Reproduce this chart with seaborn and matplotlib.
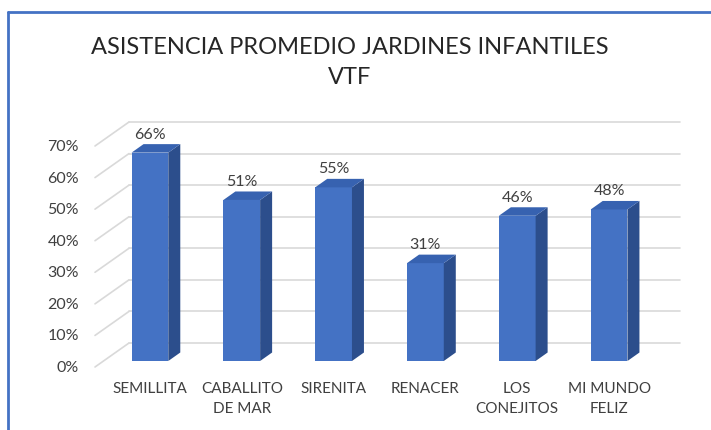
import matplotlib
matplotlib.use("Agg")
import matplotlib.pyplot as plt
import seaborn as sns
import pandas as pd
from matplotlib.patches import Polygon
from matplotlib.lines import Line2D

# ---- data ----
categories = ["SEMILLITA", "CABALLITO\nDE MAR", "SIRENITA", "RENACER",
              "LOS\nCONEJITOS", "MI MUNDO\nFELIZ"]
values = [0.66, 0.51, 0.55, 0.31, 0.46, 0.48]
value_labels = ["66%", "51%", "55%", "31%", "46%", "48%"]
y_ticks = [0.0, 0.1, 0.2, 0.3, 0.4, 0.5, 0.6, 0.7]
y_tick_labels = ["0%", "10%", "20%", "30%", "40%", "50%", "60%", "70%"]
title = "ASISTENCIA PROMEDIO JARDINES INFANTILES\nVTF"

# ---- style ----
FRONT = "#4472C4"
SIDE = "#2C4E8C"
TOP = "#3762B0"
GRID = "#D9D9D9"
TEXT = "#404040"
FONT = ["Lato", "DejaVu Sans"]

sns.set_theme(style="white")
plt.rcParams["font.family"] = FONT

W, H = 711, 430
fig = plt.figure(figsize=(W / 100, H / 100), dpi=100)
fig.patch.set_facecolor("white")

ax = fig.add_axes([104 / W, 69 / H, 551 / W, 221 / H])
ax.patch.set_visible(False)

df = pd.DataFrame({"jardin": categories, "asistencia": values})
sns.barplot(data=df, x="jardin", y="asistencia", color=FRONT, saturation=1,
            width=0.40, ax=ax, linewidth=0, zorder=3)
ax.set_xlim(-0.5, len(categories) - 0.5)
ax.set_ylim(0, 0.7)
ax.set_xlabel("")
ax.set_ylabel("")
ax.set_yticks([])
for s in ax.spines.values():
    s.set_visible(False)
ax.tick_params(axis="x", length=0, pad=15, labelsize=11, labelcolor=TEXT)
for t in ax.get_xticklabels():
    t.set_linespacing(1.55)

def disp(x, y):
    return ax.transData.transform((x, y))

def ff(X, Y):
    return (X / W, Y / H)

# back wall / floor offsets (pixels: right, up)
WX, WY = 25, 18
FX, FY = -9, -6
BX, BY = 12, 8.5

xl, xr = ax.get_xlim()
for v, lab in zip(y_ticks, y_tick_labels):
    X0, Y = disp(xl, v)
    X1, _ = disp(xr, v)
    ax.add_line(Line2D([ (X0 + WX) / W, (X1 + WX) / W ], [ (Y + WY) / H ] * 2,
                       transform=fig.transFigure, color=GRID, lw=1.2,
                       zorder=0, clip_on=False))
    ax.add_line(Line2D([ (X0 + FX) / W, (X0 + WX) / W ],
                       [ (Y + FY) / H, (Y + WY) / H ],
                       transform=fig.transFigure, color=GRID, lw=1.2,
                       zorder=0, clip_on=False))
    fig.text((X0 - 25) / W, (Y - 7) / H, lab, ha="right", va="center",
             fontsize=11.5, color=TEXT)

# 3D faces for bars
for p, lab in zip(ax.patches, value_labels):
    x0, w, h = p.get_x(), p.get_width(), p.get_height()
    X0, Yb = disp(x0, 0)
    X1, Yt = disp(x0 + w, h)
    side = [ff(X1, Yb), ff(X1, Yt), ff(X1 + BX, Yt + BY), ff(X1 + BX, Yb + BY)]
    top = [ff(X0, Yt), ff(X1, Yt), ff(X1 + BX, Yt + BY), ff(X0 + BX, Yt + BY)]
    ax.add_patch(Polygon(side, closed=True, transform=fig.transFigure,
                         facecolor=SIDE, edgecolor="none", zorder=3,
                         clip_on=False))
    ax.add_patch(Polygon(top, closed=True, transform=fig.transFigure,
                         facecolor=TOP, edgecolor="none", zorder=3,
                         clip_on=False))
    fig.text((X0 + X1) / 2 / W, (Yt + 11) / H, lab, ha="center", va="bottom",
             fontsize=11.5, color=TEXT)

fig.text(350 / W, 1 - 37 / H, title, ha="center", va="top", fontsize=17,
         color="#262626", linespacing=1.5)

# chart border
fig.add_artist(Line2D([8 / W, 1], [1 - 12 / H, 1 - 12 / H],
                      transform=fig.transFigure, color=FRONT, lw=2))
fig.add_artist(Line2D([8 / W, 8 / W], [0, 1 - 12 / H],
                      transform=fig.transFigure, color=FRONT, lw=2))

fig.savefig("out.png", dpi=100)
